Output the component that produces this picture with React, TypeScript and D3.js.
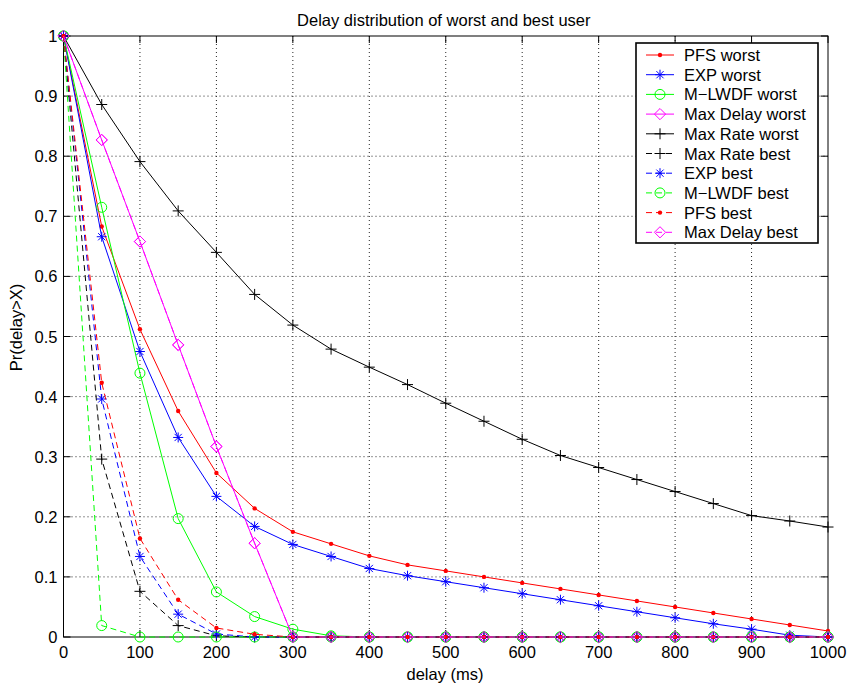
import React from "react";
import * as d3 from "d3";

// Delay axis samples (ms)
const delays = [0, 50, 100, 150, 200, 250, 300, 350, 400, 450, 500, 550, 600, 650, 700, 750, 800, 850, 900, 950, 1000];

// Pr(delay > X) for each scheduler
const pfsWorst = [1, 0.683, 0.512, 0.376, 0.273, 0.214, 0.175, 0.155, 0.135, 0.12, 0.11, 0.1, 0.09, 0.08, 0.07, 0.06, 0.05, 0.04, 0.03, 0.02, 0.01];
const expWorst = [1, 0.666, 0.475, 0.332, 0.234, 0.184, 0.154, 0.134, 0.114, 0.102, 0.092, 0.082, 0.072, 0.062, 0.052, 0.042, 0.032, 0.022, 0.013, 0.003, 0];
const mlwdfWorst = [1, 0.715, 0.439, 0.197, 0.075, 0.034, 0.013, 0.002, 0, 0, 0, 0, 0, 0, 0, 0, 0, 0, 0, 0, 0];
const maxDelayWorst = [1, 0.827, 0.658, 0.486, 0.317, 0.156, 0, 0, 0, 0, 0, 0, 0, 0, 0, 0, 0, 0, 0, 0, 0];
const maxRateWorst = [1, 0.886, 0.791, 0.709, 0.64, 0.57, 0.519, 0.479, 0.449, 0.42, 0.389, 0.359, 0.329, 0.302, 0.282, 0.262, 0.242, 0.222, 0.202, 0.193, 0.183];
const maxRateBest = [1, 0.296, 0.076, 0.019, 0.002, 0, 0, 0, 0, 0, 0, 0, 0, 0, 0, 0, 0, 0, 0, 0, 0];
const expBest = [1, 0.396, 0.134, 0.038, 0.005, 0, 0, 0, 0, 0, 0, 0, 0, 0, 0, 0, 0, 0, 0, 0, 0];
const mlwdfBest = [1, 0.019, 0, 0, 0, 0, 0, 0, 0, 0, 0, 0, 0, 0, 0, 0, 0, 0, 0, 0, 0];
const pfsBest = [1, 0.423, 0.164, 0.062, 0.015, 0.0045, 0, 0, 0, 0, 0, 0, 0, 0, 0, 0, 0, 0, 0, 0, 0];
const maxDelayBest = [1, 0.827, 0.658, 0.486, 0.317, 0.156, 0, 0, 0, 0, 0, 0, 0, 0, 0, 0, 0, 0, 0, 0, 0];

const xTicks = [0, 100, 200, 300, 400, 500, 600, 700, 800, 900, 1000];
const yTicks = [0, 0.1, 0.2, 0.3, 0.4, 0.5, 0.6, 0.7, 0.8, 0.9, 1];

type MarkerKind = "dot" | "star" | "circle" | "diamond" | "plus";

const series: { name: string; values: number[]; color: string; dashed: boolean; marker: MarkerKind }[] = [
  { name: "PFS worst", values: pfsWorst, color: "#ff0000", dashed: false, marker: "dot" },
  { name: "EXP worst", values: expWorst, color: "#0000ff", dashed: false, marker: "star" },
  { name: "M\u2212LWDF worst", values: mlwdfWorst, color: "#00ff00", dashed: false, marker: "circle" },
  { name: "Max Delay worst", values: maxDelayWorst, color: "#ff00ff", dashed: false, marker: "diamond" },
  { name: "Max Rate worst", values: maxRateWorst, color: "#000000", dashed: false, marker: "plus" },
  { name: "Max Rate best", values: maxRateBest, color: "#000000", dashed: true, marker: "plus" },
  { name: "EXP best", values: expBest, color: "#0000ff", dashed: true, marker: "star" },
  { name: "M\u2212LWDF best", values: mlwdfBest, color: "#00ff00", dashed: true, marker: "circle" },
  { name: "PFS best", values: pfsBest, color: "#ff0000", dashed: true, marker: "dot" },
  { name: "Max Delay best", values: maxDelayBest, color: "#ff00ff", dashed: true, marker: "diamond" },
];

const W = 848;
const H = 684;
const plot = { left: 63.5, right: 828, top: 36, bottom: 637 };
const FONT = "'Liberation Sans', Arial, Helvetica, sans-serif";
const FS = 16.5;
const DASH = "6,4";

const x = d3.scaleLinear().domain([0, 1000]).range([plot.left, plot.right]);
const y = d3.scaleLinear().domain([0, 1]).range([plot.bottom, plot.top]);

function Marker({ kind, cx, cy, color }: { kind: MarkerKind; cx: number; cy: number; color: string }) {
  const sw = 1;
  switch (kind) {
    case "dot":
      return <circle cx={cx} cy={cy} r={2.2} fill={color} />;
    case "circle":
      return <circle cx={cx} cy={cy} r={5} fill="none" stroke={color} strokeWidth={sw} />;
    case "diamond": {
      const s = 5.6;
      return (
        <path
          d={`M${cx},${cy - s}L${cx + s},${cy}L${cx},${cy + s}L${cx - s},${cy}Z`}
          fill="none"
          stroke={color}
          strokeWidth={sw}
        />
      );
    }
    case "plus": {
      const s = 5.5;
      return (
        <path d={`M${cx - s},${cy}H${cx + s}M${cx},${cy - s}V${cy + s}`} stroke={color} strokeWidth={sw} fill="none" />
      );
    }
    case "star": {
      const s = 5;
      const t = 3.6;
      return (
        <path
          d={`M${cx - s},${cy}H${cx + s}M${cx},${cy - s}V${cy + s}M${cx - t},${cy - t}L${cx + t},${cy + t}M${cx - t},${cy + t}L${cx + t},${cy - t}`}
          stroke={color}
          strokeWidth={sw}
          fill="none"
        />
      );
    }
  }
  return null;
}

export default function App() {
  const line = d3
    .line<number>()
    .x((_, i) => x(delays[i]))
    .y((v) => y(v));

  const legend = { left: 636, top: 43, right: 818, bottom: 243, row0: 55, rowStep: 19.7 };

  return (
    <svg width={W} height={H} style={{ display: "block", position: "absolute", left: 0, top: 0, background: "#fff" }}>
      <rect x={0} y={0} width={W} height={H} fill="#fff" />

      {/* grid */}
      <g stroke="#000" strokeWidth={1} strokeDasharray="1,3" opacity={0.85}>
        {xTicks.slice(1, -1).map((t) => (
          <line key={"gx" + t} x1={x(t)} x2={x(t)} y1={plot.bottom} y2={plot.top} />
        ))}
        {yTicks.slice(1, -1).map((t) => (
          <line key={"gy" + t} x1={plot.left} x2={plot.right} y1={y(t)} y2={y(t)} />
        ))}
      </g>

      {/* ticks on all four sides, pointing inward */}
      <g stroke="#000" strokeWidth={1}>
        {xTicks.map((t) => (
          <g key={"tx" + t}>
            <line x1={x(t)} x2={x(t)} y1={plot.bottom} y2={plot.bottom - 7} />
            <line x1={x(t)} x2={x(t)} y1={plot.top} y2={plot.top + 7} />
          </g>
        ))}
        {yTicks.map((t) => (
          <g key={"ty" + t}>
            <line x1={plot.left} x2={plot.left + 7} y1={y(t)} y2={y(t)} />
            <line x1={plot.right} x2={plot.right - 7} y1={y(t)} y2={y(t)} />
          </g>
        ))}
      </g>

      <rect
        x={plot.left}
        y={plot.top}
        width={plot.right - plot.left}
        height={plot.bottom - plot.top}
        fill="none"
        stroke="#000"
        strokeWidth={1}
      />

      {/* tick labels */}
      <g fontFamily={FONT} fontSize={FS} fill="#000">
        {xTicks.map((t) => (
          <text key={"lx" + t} x={x(t)} y={plot.bottom + 21} textAnchor="middle">
            {t}
          </text>
        ))}
        {yTicks.map((t) => (
          <text key={"ly" + t} x={plot.left - 6} y={y(t)} textAnchor="end" dominantBaseline="central">
            {d3.format("~g")(t)}
          </text>
        ))}
      </g>

      {/* series */}
      {series.map((s) => (
        <g key={s.name}>
          <path
            d={line(s.values) || ""}
            fill="none"
            stroke={s.color}
            strokeWidth={1}
            strokeDasharray={s.dashed ? DASH : undefined}
          />
          {s.values.map((v, i) => (
            <Marker key={i} kind={s.marker} cx={x(delays[i])} cy={y(v)} color={s.color} />
          ))}
        </g>
      ))}

      {/* titles */}
      <text x={443.8} y={25.5} textAnchor="middle" fontFamily={FONT} fontSize={FS} fill="#000">
        Delay distribution of worst and best user
      </text>
      <text x={445} y={679.5} textAnchor="middle" fontFamily={FONT} fontSize={FS} fill="#000">
        delay (ms)
      </text>
      <text
        transform={`translate(22,327.5) rotate(-90)`}
        textAnchor="middle"
        fontFamily={FONT}
        fontSize={FS}
        fill="#000"
      >
        Pr(delay&gt;X)
      </text>

      {/* legend */}
      <rect
        x={legend.left}
        y={legend.top}
        width={legend.right - legend.left}
        height={legend.bottom - legend.top}
        fill="#fff"
        stroke="#000"
        strokeWidth={1.6}
      />
      {series.map((s, i) => {
        const cy = legend.row0 + i * legend.rowStep;
        return (
          <g key={"leg" + s.name}>
            <line
              x1={646}
              x2={674}
              y1={cy}
              y2={cy}
              stroke={s.color}
              strokeWidth={1}
              strokeDasharray={s.dashed ? DASH : undefined}
            />
            <Marker kind={s.marker} cx={660} cy={cy} color={s.color} />
            <text x={684} y={cy} dominantBaseline="central" fontFamily={FONT} fontSize={FS} fill="#000">
              {s.name}
            </text>
          </g>
        );
      })}
    </svg>
  );
}
